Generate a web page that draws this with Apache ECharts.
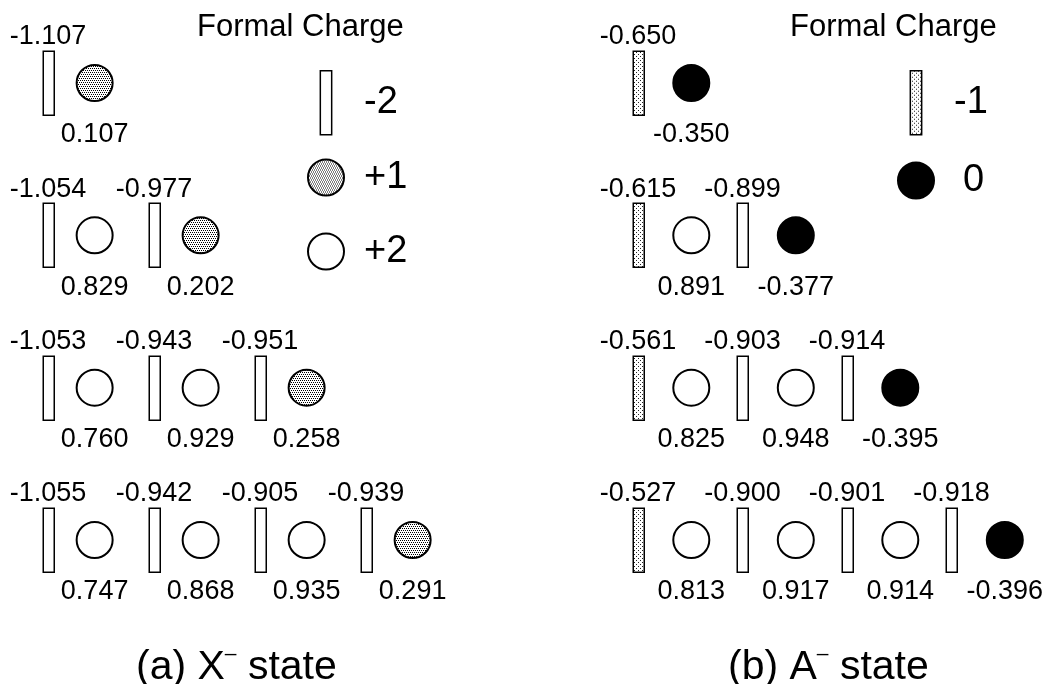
<!DOCTYPE html>
<html>
<head>
<meta charset="utf-8">
<script src="https://cdn.jsdelivr.net/npm/echarts@6/dist/echarts.min.js"></script>
<style>
html,body{margin:0;padding:0;background:#fff;}
#chart{width:1056px;height:684px;}
</style>
</head>
<body>
<div id="chart"></div>
<script>
// ---------- data ----------
// (a) X- state : anion (rectangle) charges, top labels
const aAnion = [[-1.107], [-1.054, -0.977], [-1.053, -0.943, -0.951], [-1.055, -0.942, -0.905, -0.939]];
// (a) cation (circle) charges, bottom labels
const aCation = [[0.107], [0.829, 0.202], [0.760, 0.929, 0.258], [0.747, 0.868, 0.935, 0.291]];
const aAnionFormal = [[-2], [-2, -2], [-2, -2, -2], [-2, -2, -2, -2]];
const aCationFormal = [[1], [2, 1], [2, 2, 1], [2, 2, 2, 1]];
// (b) A- state
const bAnion = [[-0.650], [-0.615, -0.899], [-0.561, -0.903, -0.914], [-0.527, -0.900, -0.901, -0.918]];
const bCation = [[-0.350], [0.891, -0.377], [0.825, 0.948, -0.395], [0.813, 0.917, 0.914, -0.396]];
const bAnionFormal = [[-1], [-1, -2], [-1, -2, -2], [-1, -2, -2, -2]];
const bCationFormal = [[0], [2, 0], [2, 2, 0], [2, 2, 2, 0]];
const legendA = ['-2', '+1', '+2'];
const legendB = ['-1', '0'];
const legendTitle = 'Formal Charge';
const panelTitles = ['(a) X{sup|\u2013} state', '(b) A{sup|\u2013} state'];

// ---------- styling helpers ----------
const FONT = 'Liberation Sans, Arial, sans-serif';
function pattern(size, dots) {
  const c = document.createElement('canvas');
  c.width = size; c.height = size;
  const g = c.getContext('2d');
  g.fillStyle = '#fff'; g.fillRect(0, 0, size, size);
  dots.forEach(d => { g.fillStyle = d[2]; g.fillRect(d[0], d[1], 1, 1); });
  return { image: c, repeat: 'repeat' };
}
const denseDots = pattern(4, [[0, 0, '#000'], [2, 0, '#000'], [1, 2, '#000'], [3, 2, '#000']]);
const lightDots = pattern(4, [[0, 0, '#222'], [2, 2, '#222']]);

const fcName = f => f > 0 ? '+' + f : String(f);
const styleFor = {
  '-2': { shape: 'rect', fill: '#fff' },
  '-1': { shape: 'rect', fill: lightDots },
  '+2': { shape: 'circle', fill: '#fff' },
  '+1': { shape: 'circle', fill: denseDots },
  '0': { shape: 'circle', fill: '#000' }
};
const RECT_W = 11, RECT_H = 64, CIRCLE_R = 18;
const TOP_LABEL_DY = -46, BOTTOM_LABEL_DY = 52;
const LABEL_FONT = '27px ' + FONT;

function points(values, formals, fc, offset) {
  const out = [];
  values.forEach((row, r) => row.forEach((v, k) => {
    if (formals[r][k] === fc) out.push([k + offset, r, v]);
  }));
  return out;
}

function makeSeries(panel, values, formals, fc, offset) {
  const name = fcName(fc);
  const st = styleFor[name];
  const isRect = st.shape === 'rect';
  const lw = isRect ? 1.5 : 2;
  return {
    type: 'custom',
    name: name,
    coordinateSystem: 'cartesian2d',
    xAxisIndex: panel, yAxisIndex: panel,
    encode: { x: 0, y: 1 },
    itemStyle: { color: st.fill, borderColor: '#000', borderWidth: lw },
    renderItem: function (params, api) {
      const c = api.coord([api.value(0), api.value(1)]);
      const v = api.value(2);
      const style = { fill: st.fill, stroke: '#000', lineWidth: lw };
      const mark = isRect
        ? { type: 'rect', shape: { x: Math.round(c[0] - RECT_W / 2) + 0.25, y: Math.round(c[1] - RECT_H / 2) + 0.25, width: RECT_W, height: RECT_H }, style: style }
        : { type: 'circle', shape: { cx: c[0], cy: c[1], r: CIRCLE_R }, style: style };
      const label = {
        type: 'text',
        style: {
          text: v.toFixed(3), x: c[0], y: c[1] + (isRect ? TOP_LABEL_DY : BOTTOM_LABEL_DY),
          align: 'center', verticalAlign: 'middle', font: LABEL_FONT, fill: '#000'
        }
      };
      return { type: 'group', children: [mark, label] };
    },
    data: points(values, formals, fc, offset)
  };
}

const series = [];
// panel (a)
series.push(makeSeries(0, aAnion, aAnionFormal, -2, 0));
series.push(makeSeries(0, aCation, aCationFormal, 2, 0.44));
series.push(makeSeries(0, aCation, aCationFormal, 1, 0.44));
// panel (b)
series.push(makeSeries(1, bAnion, bAnionFormal, -1, 0));
series.push(makeSeries(1, bAnion, bAnionFormal, -2, 0));
series.push(makeSeries(1, bCation, bCationFormal, 2, 0.51));
series.push(makeSeries(1, bCation, bCationFormal, 0, 0.51));

const RECT_ICON = 'path://M0 0H11V62H0Z';
function legendItems(names, extraPad) {
  return names.map(n => ({
    name: n,
    icon: styleFor[n].shape === 'rect' ? RECT_ICON : 'circle',
    itemStyle: { color: styleFor[n].fill, borderColor: '#000', borderWidth: styleFor[n].shape === 'rect' ? 1.5 : 2 },
    textStyle: { padding: [0, 0, 0, (extraPad && extraPad[n]) || 15] }
  }));
}
const legendText = { fontFamily: FONT, fontSize: 38, color: '#000', lineHeight: 64 };

const axisHidden = { show: false };
const titleStyle = { fontFamily: FONT, fontWeight: 'normal', color: '#000' };
const supRich = { sup: { fontFamily: FONT, fontSize: 21, color: '#000', padding: [0, 0, 26, 0] } };
const option = {
  backgroundColor: '#fff',
  animation: false,
  title: [
    { text: legendTitle, left: 192, top: 7, textStyle: Object.assign({ fontSize: 31 }, titleStyle) },
    { text: legendTitle, left: 785, top: 7, textStyle: Object.assign({ fontSize: 31 }, titleStyle) },
    { text: panelTitles[0], left: 131, top: 639, textStyle: Object.assign({ fontSize: 41, rich: supRich }, titleStyle) },
    { text: panelTitles[1], left: 723, top: 639, textStyle: Object.assign({ fontSize: 41, rich: supRich }, titleStyle) }
  ],
  legend: [
    { data: legendItems(legendA), orient: 'vertical', left: 302, top: 65, itemWidth: 36, itemHeight: 64, itemGap: 10,
      selectedMode: false, textStyle: legendText },
    { data: legendItems(legendB, { '0': 24 }), orient: 'vertical', left: 892, top: 65, itemWidth: 36, itemHeight: 64, itemGap: 13,
      selectedMode: false, textStyle: legendText }
  ],
  grid: [
    { left: 48, top: 83, width: 424, height: 457 },
    { left: 638, top: 83, width: 423, height: 457 }
  ],
  xAxis: [
    Object.assign({ type: 'value', gridIndex: 0, min: 0, max: 4 }, axisHidden),
    Object.assign({ type: 'value', gridIndex: 1, min: 0, max: 4 }, axisHidden)
  ],
  yAxis: [
    Object.assign({ type: 'value', gridIndex: 0, min: 0, max: 3, inverse: true }, axisHidden),
    Object.assign({ type: 'value', gridIndex: 1, min: 0, max: 3, inverse: true }, axisHidden)
  ],
  series: series
};
const chart = echarts.init(document.getElementById('chart'), null, { renderer: 'canvas' });
chart.setOption(option);
</script>
</body>
</html>
